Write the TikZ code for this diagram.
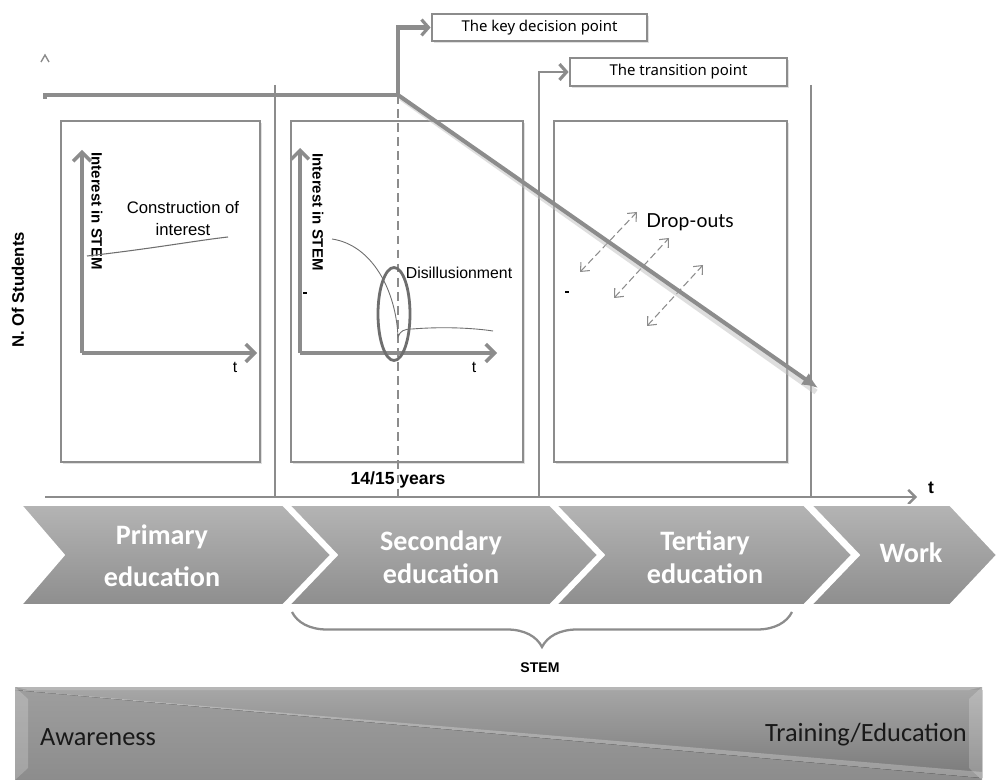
\documentclass[tikz,border=0pt]{standalone}
\usepackage{fontspec}
\setmainfont{Liberation Sans}
\newfontfamily\calf{Carlito}
\newfontfamily\boxf{Noto Sans}
\newfontfamily\dropf{Lato}
\usetikzlibrary{arrows.meta,fit,decorations.pathreplacing,shadows,shapes.geometric}
\definecolor{lg}{HTML}{8C8C8C}
\definecolor{dg}{HTML}{6E6E6E}
\definecolor{chtop}{HTML}{B4B4B4}
\definecolor{chbot}{HTML}{8E8E8E}
\begin{document}
\begin{tikzpicture}[x=0.02cm,y=-0.02cm,
  gline/.style={draw=lg, line width=1.2pt},
  thickline/.style={draw=lg, line width=2.3pt},
  panel/.style={draw=lg, line width=1.6pt, inner sep=0pt, fill=white,
    drop shadow={shadow xshift=1pt, shadow yshift=-1pt, fill=black!20, opacity=0.6}},
  axis/.style={draw=lg, line width=2.2pt, -{Straight Barb[length=5pt,width=10pt,line width=2pt]}},
  labelbox/.style={draw=lg, line width=1.6pt, fill=white, inner sep=0pt,
    font=\boxf\fontsize{8.5}{10}\selectfont,
    drop shadow={shadow xshift=1pt, shadow yshift=-1pt, fill=black!20, opacity=0.6}},
  ylab/.style={rotate=-90, font=\bfseries\fontsize{8.5}{10}\selectfont},
  dropar/.style={draw=lg, line width=0.6pt, dashed, dash pattern=on 4pt off 2pt,
    {Straight Barb[length=4pt,width=7pt]}-{Straight Barb[length=4pt,width=7pt]}},
  chev/.style={top color=chtop, bottom color=chbot, draw=white, line width=1pt},
  chevtext/.style={text=white, font=\calf\bfseries\fontsize{16}{19}\selectfont, align=center},
  bandtext/.style={text=black!90, font=\calf\fontsize{15}{18}\selectfont}
]
\useasboundingbox (0,0) rectangle (997,780);

% ---------- top structure ----------
\coordinate (hl) at (45,95);
\coordinate (kp) at (398,95);
\coordinate (dend) at (818,388);
\draw[thickline] (45,99) -- (hl) -- (kp);
\draw[gline] (275,85) -- (275,497);
\draw[gline] (811,85) -- (811,497);

% panels
\node[panel, fit={(61,121)(260,462)}] (p1) {};
\node[panel, fit={(291,121)(523,462)}] (p2) {};
\node[panel, fit={(554,121)(787,462)}] (p3) {};

% label boxes
\node[labelbox, minimum width=4.3cm, minimum height=0.54cm] (kbox) at (539.5,27.5) {The key decision point};
\node[labelbox, minimum width=4.34cm, minimum height=0.56cm] (tbox) at (678.5,72) {The transition point};

\coordinate (tb) at (539,497);
\draw[thickline, -{Straight Barb[length=4pt,width=9pt,line width=1.8pt]}] (kp) |- (kbox.west);
\draw[draw=lg, line width=1.5pt, -{Straight Barb[length=4pt,width=9pt,line width=1.8pt]}] (tb) |- (tbox.west);

% dashed key line
\coordinate (kb) at (398,497);
\draw[draw=lg, line width=0.7pt, dash pattern=on 5pt off 3pt] (kp) -- (kb);

% caret
\draw[draw=lg, line width=0.8pt] (41,62) -- (45,55) -- (49,62);

% ---------- panel 1 ----------
\coordinate (o1) at (82,353);
\coordinate (y1) at (82,150);
\coordinate (x1) at (257,353);
\draw[axis] (o1) -- (y1);
\draw[axis] (o1) -- (x1);
\node[ylab] (il1) at (97,211) {Interest in STEM};
\node[font=\fontsize{9}{10}\selectfont] (t1) at (235,367) {t};
\draw[draw=dg, line width=0.6pt] (87,256) .. controls (150,249) and (200,240) .. (228,237);
\node[align=center, font=\fontsize{9.5}{12.5}\selectfont] (ci) at (183,219) {Construction of\\interest};

% ---------- panel 2 ----------
\coordinate (o2) at (300,353);
\coordinate (y2) at (300,148);
\coordinate (x2) at (497,353);
\draw[axis] (o2) -- (y2);
\draw[axis] (o2) -- (x2);
\node[ylab] (il2) at (318,212) {Interest in STEM};
\node[font=\fontsize{9}{10}\selectfont] (t2) at (474,367) {t};
\draw[draw=dg, line width=0.5pt] (332,239) .. controls (372,245) and (396,290) .. (398,337)
  .. controls (400,331) and (404,329) .. (412,329) .. controls (450,326) and (480,329) .. (493,331);
\node[ellipse, draw=dg, line width=1.6pt, minimum width=0.64cm, minimum height=1.86cm, inner sep=0pt] (ell) at (394,314) {};
\node[font=\fontsize{9}{10}\selectfont] (dis) at (459,273) {Disillusionment};
\draw[black, line width=0.6pt] (303,293) -- (307,293);

% ---------- panel 3 ----------
\draw[black, line width=0.6pt] (565,292) -- (569,292);
\coordinate (d1a) at (580,272); \coordinate (d1b) at (637,212);
\coordinate (d2a) at (614,298); \coordinate (d2b) at (669,238);
\coordinate (d3a) at (647,326); \coordinate (d3b) at (703,265);
\draw[dropar] (d1a) -- (d1b);
\draw[dropar] (d2a) -- (d2b);
\draw[dropar] (d3a) -- (d3b);
\node[font=\dropf\fontsize{11}{13}\selectfont] (dro) at (690,222) {Drop-outs};

% diagonal decline arrow
\draw[draw=black!25, line width=3pt, opacity=0.5] (401,98) -- (816,392);
\draw[thickline, -{Latex[length=9pt,width=8pt]}] (kp) -- (dend);

% ---------- time axis ----------
\coordinate (ta) at (45,497);
\coordinate (tz) at (917,497);
\draw[draw=lg, line width=1.4pt, -{Straight Barb[length=4pt,width=8pt]}] (ta) -- (tz);
\node[font=\bfseries\fontsize{10}{12}\selectfont] (tt) at (931,488) {t};
\node[font=\bfseries\fontsize{10}{12}\selectfont] (age) at (398,480) {14/15 years};
\node[rotate=90, font=\bfseries\fontsize{9.5}{11}\selectfont] (ns) at (18,290) {N. Of Students};

% ---------- chevrons ----------
\path[chev] (21,505) -- (283,505) -- (331,555) -- (283,605) -- (21,605) -- (64,555) -- cycle;
\path[chev] (289,505) -- (550,505) -- (598,555) -- (550,605) -- (289,605) -- (337,555) -- cycle;
\path[chev] (556,505) -- (804,505) -- (852,555) -- (804,605) -- (556,605) -- (604,555) -- cycle;
\path[chev] (811,505) -- (950,505) -- (997,555) -- (950,605) -- (811,605) -- (859,555) -- cycle;
\node[chevtext, font=\calf\bfseries\fontsize{16}{24}\selectfont] (prim) at (162,556) {Primary\\education};
\node[chevtext] (sec) at (441,557) {Secondary\\education};
\node[chevtext] (ter) at (705,557) {Tertiary\\education};
\node[chevtext] (wrk) at (911,553) {Work};

% brace
\coordinate (b1) at (292,612);
\coordinate (b2) at (792,612);
\draw[draw=lg, line width=1.3pt, decorate, decoration={brace, mirror, amplitude=0.7cm}] (b1) -- (b2);
\node[font=\bfseries\fontsize{8}{10}\selectfont] (stem) at (540,668) {STEM};

% ---------- bottom band ----------
\fill[top color=black!38, bottom color=black!45] (15,687) rectangle (982,780);
\fill[top color=black!35, bottom color=black!52] (15,690) -- (982,690) -- (982,778) -- cycle;
\fill[white, opacity=0.25] (15,690) -- (982,772) -- (982,778) -- cycle;
\fill[white, opacity=0.2] (15,687) -- (28,699) -- (28,768) -- (15,780) -- cycle;
\fill[white, opacity=0.2] (982,687) -- (969,699) -- (969,768) -- (982,780) -- cycle;
\fill[white, opacity=0.25] (15,687) -- (982,687) -- (969,690) -- (28,690) -- cycle;
\node[bandtext] (aw) at (98,737) {Awareness};
\node[bandtext] (tr) at (866,735) {Training/Education};
\end{tikzpicture}
\end{document}
